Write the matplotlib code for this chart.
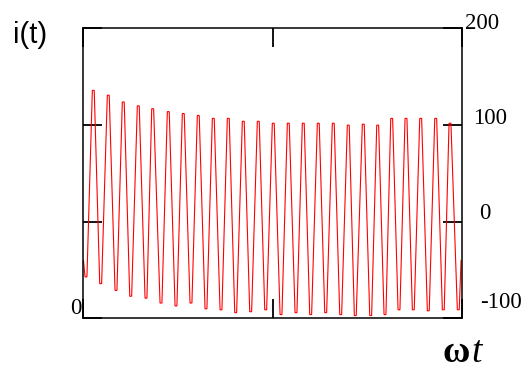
import matplotlib
matplotlib.use("Agg")
import matplotlib.pyplot as plt
import matplotlib.transforms as mtransforms

# ---- data ----
wt_start, i_start = 0.0, -40
wt_end, i_end = 159.4, -40

trough_wt = [1.06, 7.26, 13.72, 19.93, 26.39, 32.72, 39.05, 45.38, 51.71, 58.05,
             64.25, 70.58, 76.92, 83.38, 89.71, 95.91, 102.25, 108.58, 114.74,
             121.24, 127.28, 133.19, 139.23, 145.56, 151.89, 158.22]
trough_i = [-57, -64, -71, -77, -79, -84, -87, -84, -90, -91, -94, -93, -91,
            -96, -94, -96, -94, -96, -97, -97, -96, -91, -91, -92, -91, -91]

peak_wt = [4.14, 10.47, 16.80, 23.13, 29.21, 35.80, 42.13, 48.46, 54.80, 61.13,
           67.46, 73.79, 80.12, 86.46, 92.79, 99.12, 105.45, 111.78, 118.12,
           124.20, 130.11, 136.15, 142.35, 148.69, 154.72]
peak_i = [136, 131, 124, 120, 117, 114, 112, 110, 107, 107, 104, 104, 102, 102,
          102, 102, 102, 100, 101, 100, 107, 107, 107, 107, 102]

# width (in wt units) of the short flat tips seen at each extreme
tip_width = 0.8

x_limits = [0, 160]
x_ticks = [0, 80, 160]
y_limits = [-100, 200]
y_ticks = [-100, 0, 100, 200]
y_tick_labels = ["-100", "0", "100", "200"]

# ---- build polyline from the read vertices ----
half = tip_width / 2
xs = [wt_start]
ys = [i_start]
for k in range(len(trough_wt)):
    xs += [trough_wt[k] - half, trough_wt[k] + half]
    ys += [trough_i[k], trough_i[k]]
    if k < len(peak_wt):
        xs += [peak_wt[k] - half, peak_wt[k] + half]
        ys += [peak_i[k], peak_i[k]]
xs.append(wt_end); ys.append(i_end)

fig = plt.figure(figsize=(5.27, 3.69), dpi=100)
ax = fig.add_axes([0.1584, 0.1369, 0.7192, 0.7859])
ax.plot(xs, ys, color="#ff0000", lw=0.8, solid_joinstyle="miter")
ax.set_xlim(*x_limits)
ax.set_ylim(*y_limits)
ax.set_xticks(x_ticks)
ax.set_yticks(y_ticks)
ax.tick_params(direction="in", length=14, width=1.3, color="black",
               top=True, right=True, labelleft=False, labelbottom=False)
for s in ax.spines.values():
    s.set_linewidth(1.1)
    s.set_color("black")

serif = ["Liberation Serif", "DejaVu Serif"]
# right side labels: offsets in pixels (dx, dy)
label_offsets = [(17.5, 16), (16.5, 8.7), (10.5, 7), (2.5, 5.3)]
blend = mtransforms.blended_transform_factory(ax.transAxes, ax.transData)
for val, lab, (dx, dy) in zip(y_ticks, y_tick_labels, label_offsets):
    tr = mtransforms.offset_copy(blend, fig=fig, x=dx, y=dy, units="dots")
    ax.text(1.0, val, lab, transform=tr, ha="left", va="center",
            fontsize=16.5, family=serif, clip_on=False)

tr0 = mtransforms.offset_copy(ax.transAxes, fig=fig, x=-1.5, y=10, units="dots")
ax.text(0.0, 0.0, "0", transform=tr0, ha="right", va="center",
        fontsize=16.5, family=serif)

fig.text(13 / 527, 1 - 35 / 369, "i(t)", ha="left", va="center",
         fontsize=21, family=["Liberation Sans", "DejaVu Sans"])

fig.text(442 / 527, 1 - 362 / 369, "\u03c9", ha="left", va="baseline",
         fontsize=27, family=serif, weight="bold")
fig.text(471 / 527, 1 - 362 / 369, "t", ha="left", va="baseline",
         fontsize=27, family=serif, style="italic")

fig.savefig("out.png", dpi=100)
